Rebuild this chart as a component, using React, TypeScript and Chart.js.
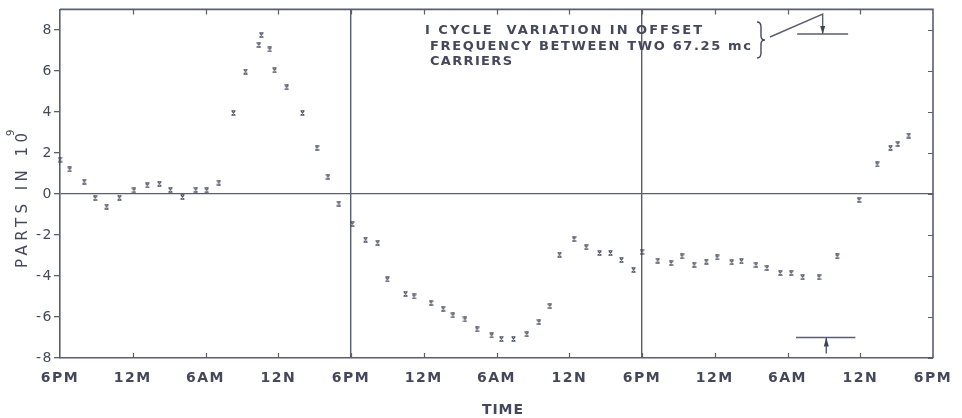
import { useEffect, useRef } from "react";
import { Chart, registerables } from "chart.js";

Chart.register(...registerables);

// ---- data (hours after the first 6PM, parts in 10^9) ----
const hours = [
  0, 0.8, 2.0, 2.9, 3.85, 4.9, 6.1, 7.2, 8.2, 9.1, 10.1, 11.2, 12.1, 13.1,
  14.3, 15.3, 16.4, 16.6, 17.3, 17.7, 18.7, 20.0, 21.2, 22.1, 23.0, 24.1,
  25.2, 26.2, 27.0, 28.5, 29.2, 30.6, 31.6, 32.4, 33.4, 34.4, 35.6, 36.4,
  37.4, 38.5, 39.5, 40.4, 41.2, 42.4, 43.4, 44.5, 45.4, 46.3, 47.3, 48.0,
  49.3, 50.4, 51.3, 52.3, 53.3, 54.2, 55.4, 56.2, 57.4, 58.3, 59.4, 60.3,
  61.25, 62.6, 64.1, 65.9, 67.4, 68.5, 69.1, 70.0,
];
const values = [
  1.68, 1.2, 0.6, -0.2, -0.62, -0.18, 0.18, 0.42, 0.5, 0.2, -0.15, 0.2, 0.18,
  0.55, 3.95, 5.97, 7.27, 7.75, 7.05, 6.03, 5.2, 3.95, 2.25, 0.84, -0.47,
  -1.47, -2.23, -2.38, -4.17, -4.87, -5.0, -5.31, -5.6, -5.92, -6.12, -6.6,
  -6.9, -7.07, -7.07, -6.84, -6.25, -5.47, -2.96, -2.2, -2.6, -2.88, -2.88,
  -3.22, -3.7, -2.82, -3.25, -3.37, -3.04, -3.45, -3.3, -3.09, -3.33, -3.28,
  -3.46, -3.61, -3.85, -3.85, -4.06, -4.06, -3.04, -0.29, 1.44, 2.25, 2.44,
  2.85,
];
const xTickHours = [0, 6, 12, 18, 24, 30, 36, 42, 48, 54, 60, 66, 72];
const xTickLabels = [
  "6PM", "12M", "6AM", "12N", "6PM", "12M", "6AM", "12N", "6PM", "12M", "6AM", "12N", "6PM",
];
const yTickValues = [-8, -6, -4, -2, 0, 2, 4, 6, 8];
const yTickLabels = ["-8", "-6", "-4", "-2", "0", "2", "4", "6", "8"];
const dividerHours = [24, 48];
const noteLines = [
  "I CYCLE  VARIATION IN OFFSET",
  "FREQUENCY BETWEEN TWO 67.25 mc",
  "CARRIERS",
];
const xTitle = "TIME";
const yTitle = "PARTS IN 10";
const yTitleSup = "9";
const cycleBarTop = 7.8;
const cycleBarBottom = -7.0;

const AXIS = "#5b5e6f";
const TEXT = "#45485a";
const MARK = "#4a4d60";
const FONT = "'DejaVu Sans', sans-serif";

function makeMarker(): HTMLCanvasElement {
  const c = document.createElement("canvas");
  c.width = 5;
  c.height = 6;
  const g = c.getContext("2d")!;
  g.strokeStyle = MARK;
  g.lineWidth = 1.1;
  g.beginPath();
  g.moveTo(0.5, 0.7);
  g.lineTo(4.5, 0.7);
  g.moveTo(0.5, 5.3);
  g.lineTo(4.5, 5.3);
  g.moveTo(0.9, 0.9);
  g.lineTo(4.1, 5.1);
  g.moveTo(4.1, 0.9);
  g.lineTo(0.9, 5.1);
  g.stroke();
  return c;
}

function fitText(ctx: CanvasRenderingContext2D, text: string, x: number, y: number, width: number) {
  (ctx as any).letterSpacing = "0px";
  const w = ctx.measureText(text).width;
  const sp = (width - w) / Math.max(1, text.length - 1);
  (ctx as any).letterSpacing = sp + "px";
  ctx.fillText(text, x, y);
  (ctx as any).letterSpacing = "0px";
}

const framePlugin = {
  id: "frame",
  beforeDraw(chart: any) {
    (chart.ctx as any).letterSpacing = "1.5px";
  },
  afterDraw(chart: any) {
    const ctx: CanvasRenderingContext2D = chart.ctx;
    const { left, right, top, bottom } = chart.chartArea;
    const xs = chart.scales.x;
    const ys = chart.scales.y;
    ctx.save();
    (ctx as any).letterSpacing = "0px";
    ctx.strokeStyle = AXIS;
    ctx.lineWidth = 1.6;
    // top & right frame
    ctx.beginPath();
    ctx.moveTo(left, top);
    ctx.lineTo(right, top);
    ctx.lineTo(right, bottom);
    ctx.stroke();
    // inward ticks
    ctx.lineWidth = 1.2;
    ctx.beginPath();
    xTickHours.forEach((h) => {
      if (h === 0 || h === 72) return;
      const px = Math.round(xs.getPixelForValue(h)) + 0.5;
      ctx.moveTo(px, top);
      ctx.lineTo(px, top + 5);
      ctx.moveTo(px, bottom);
      ctx.lineTo(px, bottom - 5);
    });
    yTickValues.forEach((v) => {
      const py = Math.round(ys.getPixelForValue(v)) + 0.5;
      ctx.moveTo(right, py);
      ctx.lineTo(right - 5, py);
    });
    ctx.stroke();

    // annotation text
    ctx.fillStyle = TEXT;
    ctx.font = `bold 13px ${FONT}`;
    ctx.textAlign = "left";
    ctx.textBaseline = "alphabetic";
    fitText(ctx, noteLines[0], 425, 34, 277);
    fitText(ctx, noteLines[1], 430, 50, 321);
    fitText(ctx, noteLines[2], 430, 65, 82);

    // brace
    ctx.strokeStyle = TEXT;
    ctx.lineWidth = 1.4;
    ctx.beginPath();
    ctx.moveTo(757, 22);
    ctx.quadraticCurveTo(761, 22, 761, 27);
    ctx.lineTo(761, 36);
    ctx.quadraticCurveTo(761, 40, 765, 40);
    ctx.quadraticCurveTo(761, 40, 761, 44);
    ctx.lineTo(761, 53);
    ctx.quadraticCurveTo(761, 58, 757, 58);
    ctx.stroke();

    // cycle bar
    const yTop = ys.getPixelForValue(cycleBarTop);
    const yBot = ys.getPixelForValue(cycleBarBottom);
    const ax1 = xs.getPixelForValue(62.9);
    const ax2 = xs.getPixelForValue(63.2);
    ctx.strokeStyle = AXIS;
    ctx.lineWidth = 1.4;
    ctx.beginPath();
    ctx.moveTo(770, 37);
    ctx.lineTo(ax1, 14);
    ctx.lineTo(ax1, yTop);
    ctx.moveTo(xs.getPixelForValue(60.8), yTop);
    ctx.lineTo(xs.getPixelForValue(65.0), yTop);
    ctx.moveTo(xs.getPixelForValue(60.7), yBot);
    ctx.lineTo(xs.getPixelForValue(65.6), yBot);
    ctx.moveTo(ax2, yBot);
    ctx.lineTo(ax2, yBot + 16);
    ctx.stroke();
    ctx.fillStyle = "#3f4253";
    ctx.beginPath();
    ctx.moveTo(ax1 - 2.5, yTop - 8);
    ctx.lineTo(ax1 + 2.5, yTop - 8);
    ctx.lineTo(ax1, yTop);
    ctx.closePath();
    ctx.fill();
    ctx.beginPath();
    ctx.moveTo(ax2 - 2.5, yBot + 9);
    ctx.lineTo(ax2 + 2.5, yBot + 9);
    ctx.lineTo(ax2, yBot);
    ctx.closePath();
    ctx.fill();

    // axis titles
    ctx.fillStyle = TEXT;
    ctx.font = `bold 14px ${FONT}`;
    fitText(ctx, xTitle, 482, 414, 41);

    ctx.save();
    ctx.translate(27, 268);
    ctx.rotate(-Math.PI / 2);
    ctx.font = `15px ${FONT}`;
    fitText(ctx, yTitle, 0, 0, 135);
    ctx.font = `10px ${FONT}`;
    ctx.fillText(yTitleSup, 132, -13);
    ctx.restore();

    ctx.restore();
  },
};

export default function App() {
  const ref = useRef<HTMLCanvasElement | null>(null);
  useEffect(() => {
    document.body.style.margin = "0";
    const canvas = ref.current!;
    const marker = makeMarker();
    const chart = new Chart(canvas, {
      type: "scatter",
      data: {
        datasets: [
          {
            data: hours.map((h, i) => ({ x: h, y: values[i] })),
            pointStyle: marker as any,
            pointRadius: 3,
            showLine: false,
            clip: false,
          } as any,
        ],
      },
      options: {
        animation: false,
        responsive: false,
        maintainAspectRatio: false,
        layout: { padding: { top: 8, right: 29, left: 0, bottom: 0 } },
        plugins: { legend: { display: false }, tooltip: { enabled: false } },
        scales: {
          x: {
            type: "linear",
            min: 0,
            max: 72,
            afterBuildTicks: (s: any) => {
              s.ticks = xTickHours.map((v) => ({ value: v }));
            },
            afterFit: (s: any) => {
              s.height = 60;
            },
            grid: {
              color: (c: any) =>
                c.tick && dividerHours.includes(c.tick.value) ? AXIS : "rgba(0,0,0,0)",
              lineWidth: 1.4,
              drawTicks: false,
            },
            border: { display: true, color: AXIS, width: 1.6 },
            ticks: {
              autoSkip: false,
              maxRotation: 0,
              padding: 12,
              color: TEXT,
              font: { family: FONT, size: 14, weight: "bold" },
              callback: (_v: any, i: number) => xTickLabels[i],
            },
          },
          y: {
            type: "linear",
            min: -8,
            max: 9,
            afterBuildTicks: (s: any) => {
              s.ticks = yTickValues.map((v) => ({ value: v }));
            },
            afterFit: (s: any) => {
              s.width = 60;
            },
            grid: {
              color: (c: any) => (c.tick && c.tick.value === 0 ? AXIS : "rgba(0,0,0,0)"),
              lineWidth: 1.3,
              tickColor: AXIS,
              tickLength: 6,
            },
            border: { display: true, color: AXIS, width: 1.6 },
            ticks: {
              padding: 1,
              color: TEXT,
              font: { family: FONT, size: 14 },
              callback: (_v: any, i: number) => yTickLabels[i],
            },
          },
        },
      },
      plugins: [framePlugin],
    });
    return () => chart.destroy();
  }, []);
  return <canvas ref={ref} width={962} height={418} style={{ display: "block" }} />;
}
